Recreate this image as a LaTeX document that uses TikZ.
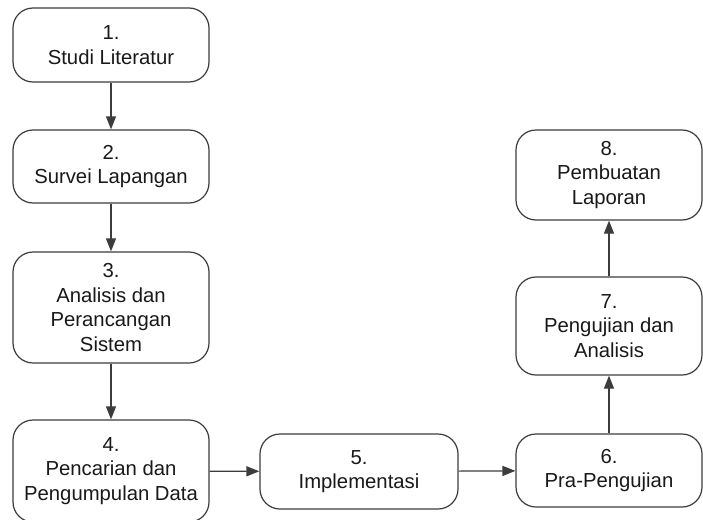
\documentclass[tikz,border=0pt]{standalone}
\usepackage{fontspec}
\setmainfont{Liberation Sans}
\usetikzlibrary{arrows.meta}
\definecolor{linec}{RGB}{60,60,60}
\definecolor{textc}{RGB}{25,25,25}
\begin{document}
\begin{tikzpicture}[x=1pt,y=-1pt,
  box/.style={draw=linec, line width=1.2pt, rounded corners=20pt, align=center,
    text=textc, font=\fontsize{20.3}{24.5}\selectfont, inner sep=0pt},
  arr/.style={draw=linec, line width=1.2pt, -{Triangle[length=13pt,width=10pt]}}]
\useasboundingbox[fill=white] (0,0) rectangle (703,519);
\node[box, minimum width=196pt, minimum height=74pt] (n1) at (111,45) {1.\\Studi Literatur};
\node[box, minimum width=196pt, minimum height=73pt] (n2) at (111,166.5) {2.\\Survei Lapangan};
\node[box, minimum width=196pt, minimum height=111pt] (n3) at (111,307.5) {3.\\Analisis dan\\Perancangan\\Sistem};
\node[box, minimum width=196pt, minimum height=102pt] (n4) at (111,471) {4.\\Pencarian dan\\Pengumpulan Data};
\node[box, minimum width=198pt, minimum height=75pt] (n5) at (359,471.5) {5.\\Implementasi};
\node[box, minimum width=186pt, minimum height=73pt] (n6) at (609,470.5) {6.\\Pra-Pengujian};
\node[box, minimum width=186pt, minimum height=98pt] (n7) at (609,326) {7.\\Pengujian dan\\Analisis};
\node[box, minimum width=186pt, minimum height=90pt] (n8) at (609,175) {8.\\Pembuatan\\Laporan};
\draw[arr] (n1) -- (n2);
\draw[arr] (n2) -- (n3);
\draw[arr] (n3) -- (n4);
\draw[arr] (n4) -- (n5);
\draw[arr] (n5) -- (n6);
\draw[arr] (n6) -- (n7);
\draw[arr] (n7) -- (n8);
\end{tikzpicture}
\end{document}
